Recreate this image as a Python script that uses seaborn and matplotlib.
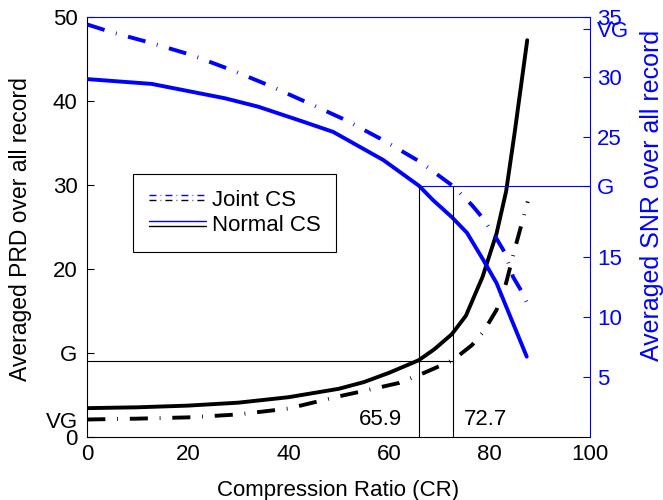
import numpy as np
import matplotlib
matplotlib.use("Agg")
import matplotlib.pyplot as plt
import seaborn as sns
from matplotlib.lines import Line2D
from matplotlib.legend_handler import HandlerBase

# PRD curves (left axis)
cr_normal_prd = [0, 10, 20, 30, 40, 50, 55, 60, 65.9, 69, 72.5, 75.3, 78.6, 81.4, 83.3, 85, 87.5]
prd_normal = [3.4, 3.5, 3.7, 4.05, 4.7, 5.7, 6.5, 7.6, 9.1, 10.4, 12.2, 14.4, 19.0, 24.2, 29.2, 36.2, 47.2]
cr_joint_prd = [0, 10, 20, 30, 40, 50, 55, 62, 67, 72.7, 76.5, 78.8, 81.4, 83.3, 85.1, 87.6]
prd_joint = [2.05, 2.15, 2.3, 2.65, 3.35, 4.8, 5.45, 6.4, 7.6, 9.1, 10.9, 12.5, 15.1, 18.3, 22.5, 28.0]

# SNR curves (right axis)
cr_normal_snr = [0, 12.8, 27.4, 34, 42.6, 48.9, 58.9, 66, 68.8, 72.5, 75.5, 78.8, 81.4, 87.4]
snr_normal = [29.8, 29.4, 28.2, 27.5, 26.3, 25.4, 23.05, 20.9, 19.7, 18.3, 17.0, 14.7, 12.8, 6.67]
cr_joint_snr = [0, 4.5, 12.8, 20.8, 28.4, 36, 44, 51.3, 58.9, 66.2, 72.7, 76.5, 78.5, 81.4, 83.1, 84.7, 86.4, 87.5]
snr_joint = [34.35, 33.75, 32.8, 31.8, 30.6, 29.3, 27.8, 26.4, 24.7, 22.9, 20.9, 19.3, 18.3, 16.5, 15.3, 13.3, 12.1, 11.1]

# quality thresholds and crossing points
prd_vg, prd_g = 2, 9
snr_vg, snr_g = 33.98, 20.92
cr_cross_normal, cr_cross_joint = 65.9, 72.7

left_ticks = [0, prd_vg, 10, 20, 30, 40, 50]
left_labels = ["0", "VG", "G", "20", "30", "40", "50"]
right_ticks = [5, 10, 15, snr_g, 25, 30, snr_vg, 35]
right_labels = ["5", "10", "15", "G", "25", "30", "VG", "35"]

sns.set_style("white")
plt.rcParams["font.family"] = ["Liberation Sans", "DejaVu Sans"]
plt.rcParams["lines.scale_dashes"] = False
plt.rcParams["text.color"] = "black"
plt.rcParams["axes.labelcolor"] = "black"

BLUE = "#0000ff"
DASHDOT = (13, 8.5, 0.6, 8.5)
LW = 2.8

fig = plt.figure(figsize=(6.63, 5), dpi=100)
ax = fig.add_axes([0.1317, 0.1266, 0.7583, 0.84])
ax2 = ax.twinx()

sns.lineplot(x=cr_joint_prd, y=prd_joint, ax=ax, color="black", lw=LW)
ax.lines[-1].set_dashes(DASHDOT)
line_j_k = ax.lines[-1]
sns.lineplot(x=cr_normal_prd, y=prd_normal, ax=ax, color="black", lw=LW)
line_n_k = ax.lines[-1]

sns.lineplot(x=cr_joint_snr, y=snr_joint, ax=ax2, color=BLUE, lw=LW)
ax2.lines[-1].set_dashes(DASHDOT)
line_j_b = ax2.lines[-1]
sns.lineplot(x=cr_normal_snr, y=snr_normal, ax=ax2, color=BLUE, lw=LW)
line_n_b = ax2.lines[-1]

# threshold guide lines
ax.hlines(prd_g, 0, cr_cross_joint, color="black", lw=0.8)
ax2.vlines([cr_cross_normal, cr_cross_joint], 0, snr_g, color="black", lw=0.8)
ax2.hlines(snr_g, cr_cross_normal, 100, color=BLUE, lw=0.8)
ax.text(cr_cross_normal - 3.3, prd_vg, f"{cr_cross_normal}", ha="right", va="center", fontsize=16)
ax.text(cr_cross_joint + 2.1, prd_vg, f"{cr_cross_joint}", ha="left", va="center", fontsize=16)

ax.set_xlim(0, 100)
ax.set_ylim(0, 50)
ax2.set_ylim(0, 35)
ax.set_xticks([0, 20, 40, 60, 80, 100])
ax.set_yticks(left_ticks)
ax.set_yticklabels(left_labels)
ax2.set_yticks(right_ticks)
ax2.set_yticklabels(right_labels)

ax.tick_params(axis="x", direction="in", length=5, width=0.8, labelsize=16, pad=5, colors="black")
ax.tick_params(axis="y", direction="in", length=5, width=0.8, labelsize=16, pad=7, colors="black")
ax2.tick_params(axis="y", direction="in", length=5, width=0.8, labelsize=16, pad=5, colors=BLUE)

for s in ["left", "bottom"]:
    ax.spines[s].set_color("black")
    ax.spines[s].set_linewidth(0.8)
for s in ["top", "right"]:
    ax.spines[s].set_visible(False)
for s in ["left", "bottom"]:
    ax2.spines[s].set_visible(False)
for s in ["top", "right"]:
    ax2.spines[s].set_color(BLUE)
    ax2.spines[s].set_linewidth(0.8)

ax.set_xlabel("Compression Ratio (CR)", fontsize=16)
ax.xaxis.set_label_coords(0.498, -0.127)
ax.xaxis.label.set_va("center")
ax.set_ylabel("Averaged PRD over all record", fontsize=16.5)
ax.yaxis.set_label_coords(-0.132, 0.495)
ax.yaxis.label.set_va("center")
ax2.set_ylabel("Averaged SNR over all record", fontsize=18, color=BLUE)
ax2.yaxis.set_label_coords(1.123, 0.575)
ax2.yaxis.label.set_va("center")


class PairHandler(HandlerBase):
    # draws the blue and black line of one method slightly offset
    def create_artists(self, legend, orig_handle, xdescent, ydescent,
                       width, height, fontsize, trans):
        arts = []
        for k, src in enumerate(orig_handle):
            y = height / 2 + 1.8 - 3.6 * k
            ln = Line2D([-xdescent, width - xdescent], [y, y], color=src.get_color(), lw=1, transform=trans)
            if src.get_linestyle() != "-":
                ln.set_dashes((5, 3, 0.5, 3))
            arts.append(ln)
        return arts


leg = ax2.legend([(line_j_b, line_j_k), (line_n_b, line_n_k)], ["Joint CS", "Normal CS"],
                 handler_map={tuple: PairHandler()}, loc="upper left",
                 bbox_to_anchor=(133 / 663, 1 - 174 / 500), bbox_transform=fig.transFigure,
                 borderaxespad=0, fontsize=16, handlelength=2.6, handletextpad=0.25,
                 labelspacing=0.2, borderpad=0.7, fancybox=False, framealpha=1,
                 edgecolor="black")
leg.get_frame().set_linewidth(0.8)

fig.savefig("out.png", dpi=100)
